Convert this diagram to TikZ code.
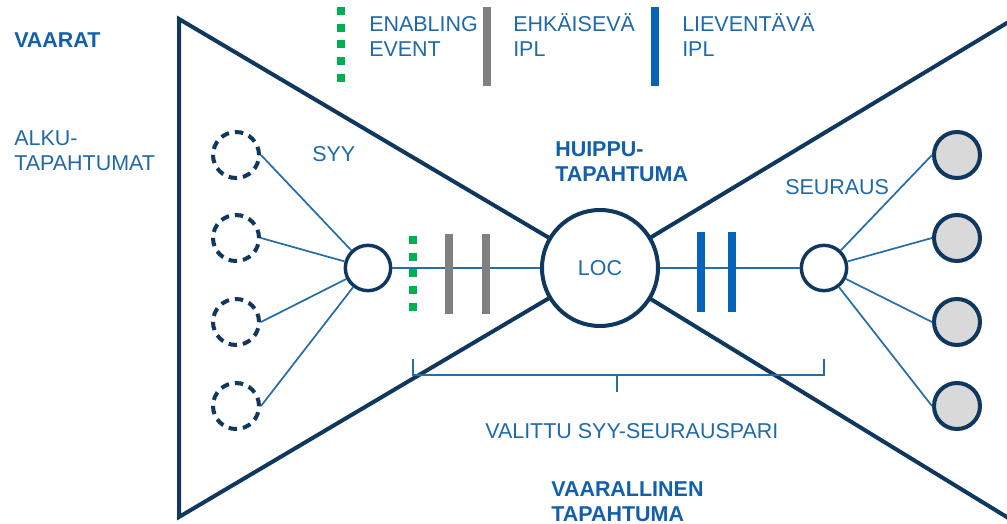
\documentclass[tikz,border=0pt]{standalone}
\usepackage{fontspec}
\setmainfont{Liberation Sans}
\definecolor{navy}{RGB}{16,55,94}
\definecolor{textblue}{RGB}{31,105,170}
\definecolor{boldblue}{RGB}{18,96,171}
\definecolor{connblue}{RGB}{38,110,170}
\definecolor{evgreen}{RGB}{0,176,80}
\definecolor{iplgray}{RGB}{128,128,128}
\definecolor{iplblue}{RGB}{5,99,185}
\definecolor{consgray}{RGB}{217,217,217}
\begin{document}
\begin{tikzpicture}[x=0.75pt,y=-0.75pt,
  lbl/.style={font=\fontsize{16.1}{18.75}\selectfont, text=textblue, inner sep=0pt, align=left, anchor=base west},
  blbl/.style={font=\fontsize{16.1}{18.75}\selectfont\bfseries, text=boldblue, inner sep=0pt, align=left, anchor=base west},
  bow/.style={draw=navy, line width=3pt, line join=miter},
  conn/.style={draw=connblue, line width=1.3pt},
  causenode/.style={circle, draw=navy, line width=3pt, dash pattern=on 6.3pt off 4.5pt, fill=white, minimum size=34.5pt, inner sep=0pt},
  hubnode/.style={circle, draw=navy, line width=2.6pt, fill=white, minimum size=34pt, inner sep=0pt},
  consnode/.style={circle, draw=navy, line width=3pt, fill=consgray, minimum size=34.5pt, inner sep=0pt},
  enabling/.style={draw=evgreen, line width=6pt, dash pattern=on 6pt off 6.56pt},
  grayipl/.style={draw=iplgray, line width=6pt},
  blueipl/.style={draw=iplblue, line width=6pt}
]
\useasboundingbox (0,0) rectangle (1007,524);
\clip (0,0) rectangle (1007,524);

% bow tie
\coordinate (c) at (600,268);
\draw[bow] (c) -- (179,19) -- (179,517) -- cycle;
\draw[bow] (c) -- (1019,15.7);
\draw[bow] (c) -- (1019,524.5);

% legend (base anchor = baseline of last line)
\draw[enabling] (341,7) -- (341,82);
\node[lbl] (lenab) at (369,57) {ENABLING\\EVENT};
\draw[grayipl] (487,7) -- (487,86);
\node[lbl] (lgray) at (513,57) {EHKÄISEVÄ\\IPL};
\draw[blueipl] (655,7) -- (655,86);
\node[lbl] (lblue) at (682,57) {LIEVENTÄVÄ\\IPL};

% labels
\node[blbl] (vaarat) at (14,48) {VAARAT};
\node[lbl] (alku) at (14,171) {ALKU-\\TAPAHTUMAT};
\node[lbl] (syytxt) at (312,162) {SYY};
\node[blbl] (huippu) at (555,182) {HUIPPU-\\TAPAHTUMA};
\node[lbl] (seurtxt) at (785,195) {SEURAUS};

% nodes
\node[causenode] (d1) at (236,155) {};
\node[causenode] (d2) at (236,238) {};
\node[causenode] (d3) at (236,322) {};
\node[causenode] (d4) at (236,406) {};
\node[hubnode] (syy) at (368,268) {};
\node[circle, draw=navy, line width=3pt, fill=white, minimum size=87pt, inner sep=0pt,
      font=\fontsize{16.1}{18.75}\selectfont, text=textblue] (loc) at (600,268) {LOC};
\node[hubnode] (seur) at (824,268) {};
\node[consnode] (g1) at (957,155) {};
\node[consnode] (g2) at (957,238) {};
\node[consnode] (g3) at (957,322) {};
\node[consnode] (g4) at (957,406) {};

% connectors
\foreach \i in {1,...,4} {
  \draw[conn] (d\i.east) -- (syy);
  \draw[conn] (g\i.west) -- (seur);
}
\draw[conn] (syy) -- (loc);
\draw[conn] (loc) -- (seur);

% barriers
\draw[enabling] (413,236) -- (413,311);
\draw[grayipl] (449,234) -- (449,314);
\draw[grayipl] (486,234) -- (486,314);
\draw[blueipl] (701,232) -- (701,312);
\draw[blueipl] (732,232) -- (732,312);

% bracket
\coordinate (bl) at (413,359);
\coordinate (br) at (824,359);
\coordinate (bm) at (617,375);
\draw[conn] (bl) |- (br |- bm) -- (br);
\draw[conn] (bm) -- ++(0,17);
\node[lbl] (pair) at (485,438) {VALITTU SYY-SEURAUSPARI};

\node[blbl] (vaarallinen) at (551,521) {VAARALLINEN\\TAPAHTUMA};
\end{tikzpicture}
\end{document}
